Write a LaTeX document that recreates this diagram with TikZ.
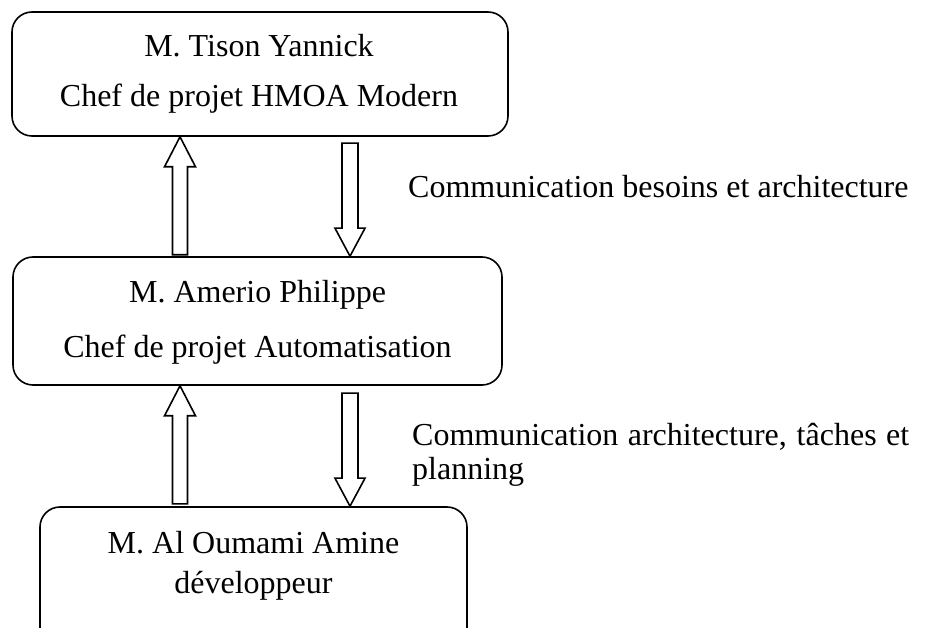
\documentclass[tikz,border=0pt]{standalone}
\usepackage{fontspec}
\setmainfont{Liberation Serif}
\tikzset{
  box/.style={draw, line width=1.6pt, rounded corners=20pt, inner sep=0pt},
  txt/.style={anchor=base, inner sep=0pt, font=\fontsize{32}{38}\selectfont},
  arr/.style={draw, line width=1.6pt, fill=white, line join=miter},
  uparrow/.pic={\path[arr] (0,0) -- (15.5,30) -- (7.5,30) -- (7.5,#1) -- (-7.5,#1) -- (-7.5,30) -- (-15.5,30) -- cycle;},
  downarrow/.pic={\path[arr] (0,0) -- (15,-28) -- (8,-28) -- (8,-#1) -- (-8,-#1) -- (-8,-28) -- (-15,-28) -- cycle;}
}
\begin{document}
\begin{tikzpicture}[x=1pt, y=-1pt]
\useasboundingbox (0,0) rectangle (938,628);
\clip (0,0) rectangle (938,628);
% boxes
\node[box, minimum width=496pt, minimum height=124pt] (b1) at (260,74) {};
\node[box, minimum width=489pt, minimum height=128pt] (b2) at (257.5,321) {};
\node[box, minimum width=427pt, minimum height=150pt] (b3) at (253.5,582) {};
% texts
\node[txt] (t1a) at (259,57) {M. Tison Yannick};
\node[txt] (t1b) at (259,107) {Chef de projet HMOA Modern};
\node[txt] (t2a) at (257.5,303) {M. Amerio Philippe};
\node[txt] (t2b) at (257.5,358) {Chef de projet Automatisation};
\node[txt] (t3a) at (253.5,553) {M. Al Oumami Amine};
\node[txt] (t3b) at (253.5,593) {développeur};
% labels
\node[txt, anchor=base west] (l1) at (408,198) {Communication besoins et architecture};
\node[txt, anchor=base west] (l2a) at (412,446) {\makebox[497pt][s]{Communication architecture, tâches et}};
\node[txt, anchor=base west] (l2b) at (412,479) {planning};
% arrows
\pic at (b1.south -| 180,0) {uparrow=118};
\pic at (b2.north -| 350,0) {downarrow=113};
\pic at (b2.south -| 180,0) {uparrow=118};
\pic at (b3.north -| 350,0) {downarrow=113};
\end{tikzpicture}
\end{document}
